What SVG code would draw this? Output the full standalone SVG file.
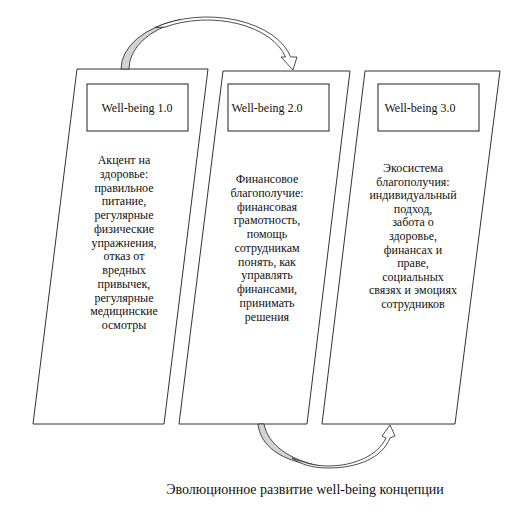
<svg xmlns="http://www.w3.org/2000/svg" width="532" height="520" viewBox="0 0 532 520">
<style>
.panel{fill:#fff;stroke:#333;stroke-width:1}
.box{fill:#fff;stroke:#222;stroke-width:1}
.t{font-family:"Liberation Serif","Times New Roman",serif;font-size:12px;fill:#111;text-anchor:middle}
.cap{font-family:"Liberation Serif","Times New Roman",serif;font-size:14px;fill:#111;text-anchor:middle}
.band{fill:#fff;stroke:#222;stroke-width:0.8}
.back{fill:#d3d3d3;stroke:#222;stroke-width:0.8}
</style>
<rect width="532" height="520" fill="#fff"/>
<g id="panel1">
<polygon class="panel" points="77,69 208,69 164,424 33,424"/>
<rect class="box" x="87" y="84" width="101" height="47"/>
<text class="t" x="137" y="112">Well-being 1.0</text>
<text class="t" x="124" y="164"><tspan x="124">Акцент  на</tspan><tspan x="124" dy="13.75">здоровье:</tspan><tspan x="124" dy="13.75">правильное</tspan><tspan x="124" dy="13.75">питание,</tspan><tspan x="124" dy="13.75">регулярные</tspan><tspan x="124" dy="13.75">физические</tspan><tspan x="124" dy="13.75">упражнения,</tspan><tspan x="124" dy="13.75">отказ от</tspan><tspan x="124" dy="13.75">вредных</tspan><tspan x="124" dy="13.75">привычек,</tspan><tspan x="124" dy="13.75">регулярные</tspan><tspan x="124" dy="13.75">медицинские</tspan><tspan x="124" dy="13.75">осмотры</tspan></text>
</g>
<g id="panel2">
<polygon class="panel" points="223,71 350,71 307,424 179,424"/>
<rect class="box" x="228" y="84" width="101" height="47"/>
<text class="t" x="267" y="112">Well-being 2.0</text>
<text class="t" x="267" y="183"><tspan x="267">Финансовое</tspan><tspan x="267" dy="13.75">благополучие:</tspan><tspan x="267" dy="13.75">финансовая</tspan><tspan x="267" dy="13.75">грамотность,</tspan><tspan x="267" dy="13.75">помощь</tspan><tspan x="267" dy="13.75">сотрудникам</tspan><tspan x="267" dy="13.75">понять, как</tspan><tspan x="267" dy="13.75">управлять</tspan><tspan x="267" dy="13.75">финансами,</tspan><tspan x="267" dy="13.75">принимать</tspan><tspan x="267" dy="13.75">решения</tspan></text>
</g>
<g id="panel3">
<polygon class="panel" points="365,71 500,71 455,424 322,424"/>
<rect class="box" x="378" y="84" width="101" height="47"/>
<text class="t" x="420" y="112">Well-being 3.0</text>
<text class="t" x="413" y="172"><tspan x="413">Экосистема</tspan><tspan x="413" dy="13.6">благополучия:</tspan><tspan x="413" dy="13.6">индивидуальный</tspan><tspan x="413" dy="13.6">подход,</tspan><tspan x="413" dy="13.6">забота о</tspan><tspan x="413" dy="13.6">здоровье,</tspan><tspan x="413" dy="13.6">финансах и</tspan><tspan x="413" dy="13.6">праве,</tspan><tspan x="413" dy="13.6">социальных</tspan><tspan x="413" dy="13.6">связях и эмоциях</tspan><tspan x="413" dy="13.6">сотрудников</tspan></text>
</g>
<g id="connectors">
<!-- top curved arrow -->
<path class="back" d="M121,69 A86,52 0 0 1 180,19.6 L180,21.6 A78,50.5 0 0 0 129,69 Z"/>
<path class="band" d="M155,27.6 A86,52 0 0 1 290.7,57 L297,57 L293,70 L281,57 L285.5,57 A81,49 0 0 0 165,27.1 Z"/>
<!-- bottom curved arrow -->
<path class="back" d="M258,424 C260,445 280,462 320,466 C290,460 268,445 264,424 Z"/>
<path class="band" d="M292,458 C305,463 315,466 328,466 C355,466 378,455 386,438 L382,436 L390,425 L395,436 L390,438 C382,458 358,468 328,468 C312,468 300,464 292,458 Z"/>
</g>
<text class="cap" x="305" y="494">Эволюционное развитие well-being концепции</text>
</svg>
